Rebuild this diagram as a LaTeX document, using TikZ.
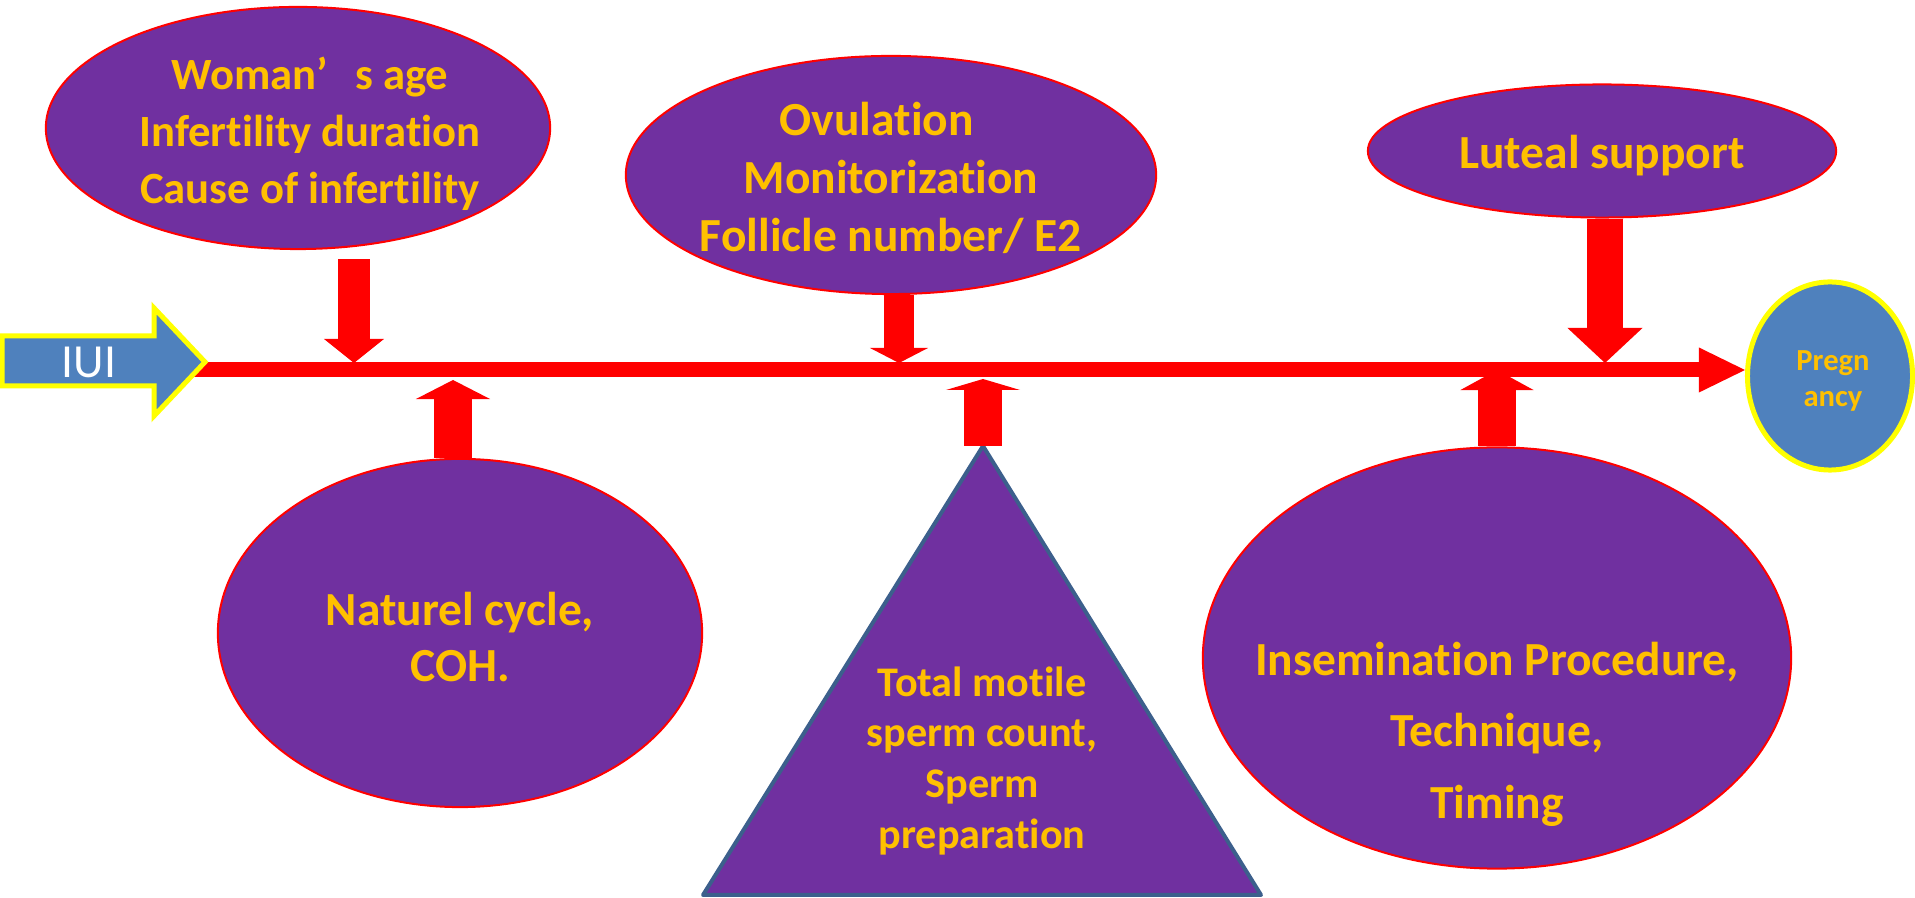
\documentclass[tikz,border=0pt]{standalone}
\usepackage{fontspec}
\setmainfont{Carlito}[Ligatures={NoCommon,NoContextual}, RawFeature={-calt}]
\usetikzlibrary{arrows.meta,shapes.geometric}

\definecolor{ivfpurple}{HTML}{7030A0}
\definecolor{ivforange}{HTML}{FFC000}
\definecolor{ivfblue}{HTML}{4F81BD}
\definecolor{ivfyellow}{HTML}{FFFF00}
\definecolor{trinavy}{HTML}{3C5F8C}

\tikzset{
    bubble/.style={ellipse, draw=red, line width=0.02cm, fill=ivfpurple, inner sep=0pt},
    bubbletext/.style={text=ivforange, align=center, inner sep=0pt},
    feed/.style n args={3}{draw=red, line width=#1, -{Triangle[length=#2, width=#3, line width=0pt]}}
}

\begin{document}
\begin{tikzpicture}[x=0.01cm, y=-0.01cm]
    \useasboundingbox (0,0) rectangle (1915,898);

    % Ellipses
    \node[bubble, minimum width=5.04cm, minimum height=2.42cm] (age) at (298,128) {};
    \node[bubble, minimum width=5.30cm, minimum height=2.38cm] (ovul) at (891,175) {};
    \node[bubble, minimum width=4.68cm, minimum height=1.33cm] (luteal) at (1602,151) {};
    \node[bubble, minimum width=4.84cm, minimum height=3.48cm] (cycle) at (460,633) {};
    \node[bubble, minimum width=5.88cm, minimum height=4.21cm] (insem) at (1497,658) {};
    \node[ellipse, draw=ivfyellow, line width=0.05cm, fill=ivfblue, inner sep=0pt,
          minimum width=1.65cm, minimum height=1.88cm] (preg) at (1830,376) {};

    % Triangle
    \coordinate (apex) at (983,446);
    \filldraw[fill=ivfpurple, draw=trinavy, line width=0.04cm, line join=round]
        (apex) -- (703,895) -- (1261,895) -- cycle;

    % Points on the line
    \coordinate (start) at (193,370);
    \coordinate (t1) at (354,363);
    \coordinate (t2) at (899,363);
    \coordinate (t3) at (1605,363);
    \coordinate (b1) at (453,380);
    \coordinate (b2) at (983,379);
    \coordinate (b3) at (1497,370);

    % Time line
    \draw[feed={0.15cm}{0.46cm}{0.45cm}] (start) -- (start -| preg.west);

    % Arrows from above
    \draw[feed={0.32cm}{0.24cm}{0.60cm}, shorten <=0.09cm] (age.south -| t1) -- (t1);
    \draw[feed={0.30cm}{0.15cm}{0.58cm}] (ovul.south -| t2) -- (t2);
    \draw[feed={0.36cm}{0.35cm}{0.75cm}] (luteal.south -| t3) -- (t3);

    % Arrows from below
    \draw[feed={0.38cm}{0.19cm}{0.74cm}] (cycle.north -| b1) -- (b1);
    \draw[feed={0.38cm}{0.11cm}{0.74cm}] (apex) -- (b2);
    \draw[feed={0.38cm}{0.20cm}{0.73cm}] (insem.north -| b3) -- (b3);

    % IUI arrow
    \filldraw[fill=ivfblue, draw=ivfyellow, line width=0.05cm]
        (2,336) -- (154,336) -- (154,308) -- (205,362) -- (154,416) -- (154,386) -- (2,386) -- cycle;
    \node[text=white, inner sep=0pt, font=\fontsize{13.5}{16}\selectfont] (iui) at (89,362) {IUI};

    % Texts
    \node[bubbletext, font=\bfseries\fontsize{12.7}{16.2}\selectfont] (agetxt)
        at ([xshift=0.12cm, yshift=-0.06cm]age.center) {Woman’\hspace{0.6em}s age\\Infertility duration\\Cause of infertility};
    \node[bubbletext, font=\bfseries\fontsize{13.5}{16.5}\selectfont] (ovultxt)
        at ([yshift=-0.03cm]ovul.center) {Ovulation\hspace*{0.6em}\\Monitorization\\Follicle number/ E2};
    \node[bubbletext, font=\bfseries\fontsize{13.5}{16.5}\selectfont] (luteatxt)
        at ([yshift=-0.05cm]luteal.center) {Luteal support};
    \node[bubbletext, font=\bfseries\fontsize{13.5}{16.2}\selectfont] (cycletxt)
        at ([yshift=-0.04cm]cycle.center) {Naturel cycle,\\COH.};
    \node[bubbletext, font=\bfseries\fontsize{13.5}{20.3}\selectfont] (insemtxt)
        at ([yshift=-0.76cm]insem.center) {Insemination Procedure,\\Technique,\\Timing};
    \node[bubbletext, font=\bfseries\fontsize{12}{14.5}\selectfont] (spermtxt)
        at (982,761) {Total motile\\sperm count,\\Sperm\\preparation};
    \node[bubbletext, font=\bfseries\fontsize{8.7}{10.5}\selectfont] (pregtxt)
        at ([xshift=0.03cm, yshift=-0.05cm]preg.center) {Pregn\\ancy};
\end{tikzpicture}
\end{document}
